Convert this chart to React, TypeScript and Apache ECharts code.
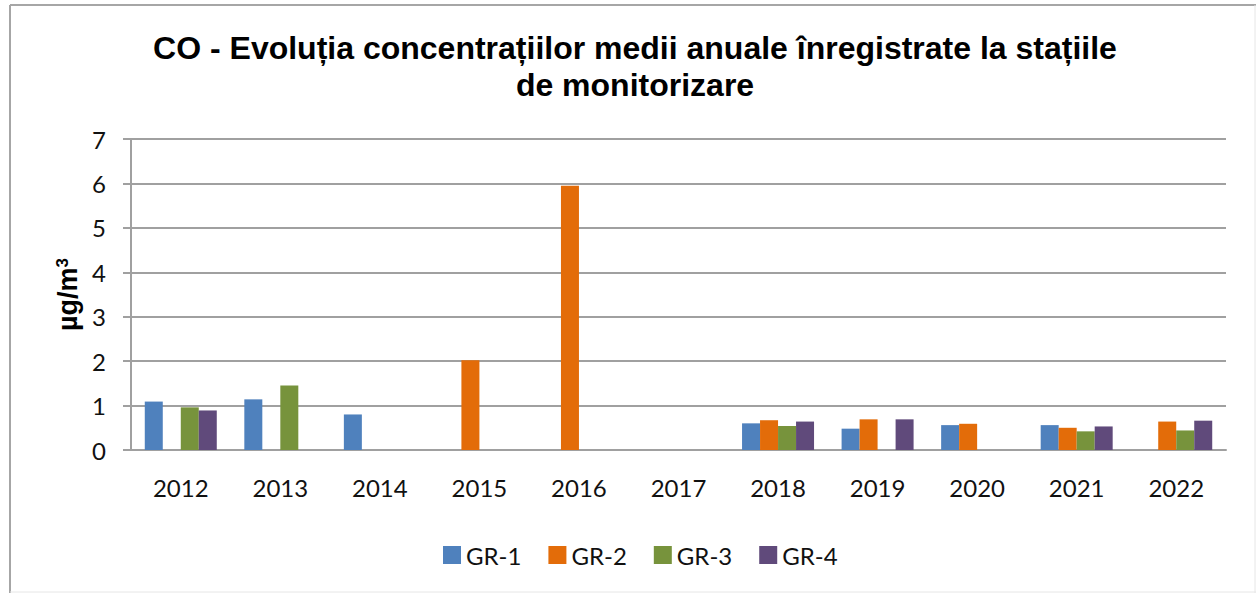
import React, { useEffect, useRef } from "react";
import * as echarts from "echarts";

const years = ["2012", "2013", "2014", "2015", "2016", "2017", "2018", "2019", "2020", "2021", "2022"];
const gr1 = [1.09, 1.14, 0.8, null, null, null, 0.6, 0.48, 0.56, 0.56, null];
const gr2 = [null, null, null, 2.02, 5.95, null, 0.67, 0.69, 0.59, 0.5, 0.64];
const gr3 = [0.96, 1.45, null, null, null, null, 0.54, null, null, 0.42, 0.44];
const gr4 = [0.89, null, null, null, null, null, 0.64, 0.69, null, 0.53, 0.66];
const seriesNames = ["GR-1", "GR-2", "GR-3", "GR-4"];
const colors = ["#4F81BD", "#E36C09", "#77933C", "#604A7B"];

export default function App() {
  const ref = useRef<HTMLDivElement>(null);
  useEffect(() => {
    if (!ref.current) return;
    const chart = echarts.init(ref.current, null, { renderer: "svg" });
    const data = [gr1, gr2, gr3, gr4];
    chart.setOption({
      animation: false,
      backgroundColor: "#ffffff",
      title: {
        text: "CO - Evoluția concentrațiilor medii anuale înregistrate la stațiile\nde monitorizare",
        left: 630,
        textAlign: "center",
        top: 24,
        textStyle: {
          fontFamily: "Liberation Sans, Arial, sans-serif",
          fontWeight: "bold",
          fontSize: 32,
          lineHeight: 37,
          color: "#000",
        },
      },
      graphic: [
        { type: "line", shape: { x1: 10, y1: 5, x2: 10, y2: 593 }, style: { stroke: "#a6a6a6", lineWidth: 2 } },
        { type: "line", shape: { x1: 10, y1: 5, x2: 1256, y2: 5 }, style: { stroke: "#a6a6a6", lineWidth: 2 } },
        { type: "line", shape: { x1: 1255, y1: 5, x2: 1255, y2: 593 }, style: { stroke: "#e6e6e6", lineWidth: 1 } },
        { type: "line", shape: { x1: 10, y1: 592, x2: 1256, y2: 592 }, style: { stroke: "#e6e6e6", lineWidth: 1 } },
      ],
      legend: {
        data: seriesNames,
        left: 438,
        top: 538,
        itemWidth: 18,
        itemHeight: 18,
        itemGap: 27,
        icon: "rect",
        textStyle: { fontFamily: "Lato, sans-serif", fontSize: 24, color: "#111" },
      },
      grid: { left: 131, right: 30, top: 139, bottom: 143, containLabel: false },
      xAxis: {
        type: "category",
        data: years,
        axisLine: { lineStyle: { color: "#a0a0a0", width: 2 } },
        axisTick: { show: false },
        axisLabel: { fontFamily: "Lato, sans-serif", fontSize: 24, color: "#111", margin: 25 },
      },
      yAxis: {
        type: "value",
        min: 0,
        max: 7,
        interval: 1,
        name: "{a|µg/m}{s|3}",
        nameLocation: "middle",
        nameGap: 50,
        nameRotate: 90,
        nameTextStyle: {
          rich: {
            a: { fontFamily: "Liberation Sans, Arial, sans-serif", fontWeight: "bold", fontSize: 27, color: "#000" },
            s: { fontFamily: "Liberation Sans, Arial, sans-serif", fontWeight: "bold", fontSize: 17, color: "#000", verticalAlign: "top", padding: [0, 0, 10, 0] },
          },
        },
        axisLine: { show: true, lineStyle: { color: "#a0a0a0", width: 2 } },
        axisTick: { show: true, length: 8, lineStyle: { color: "#a0a0a0", width: 2 } },
        splitLine: { lineStyle: { color: "#a0a0a0", width: 2 } },
        axisLabel: { fontFamily: "Lato, sans-serif", fontSize: 24, color: "#111", margin: 25 },
      },
      series: seriesNames.map((n, i) => ({
        name: n,
        type: "bar",
        data: data[i],
        barWidth: 18,
        barGap: "0%",
        itemStyle: { color: colors[i] },
      })),
    });
    return () => chart.dispose();
  }, []);
  return <div ref={ref} style={{ position: "absolute", left: 0, top: 0, width: 1256, height: 593 }} />;
}
